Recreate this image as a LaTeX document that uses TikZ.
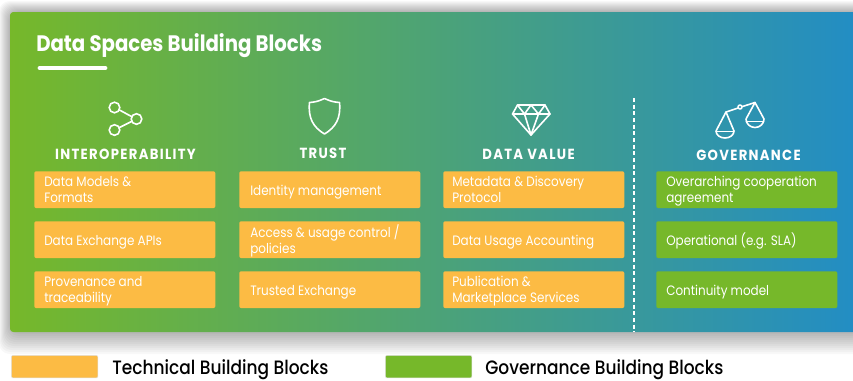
\documentclass[tikz,border=0pt]{standalone}
\usepackage{fontspec}
\setmainfont{Poppins}[FakeStretch=0.88]
\newfontfamily\headf{Poppins}[FakeStretch=0.9,LetterSpace=9]
\newfontfamily\legf{Poppins Medium}[FakeStretch=0.88]
\usetikzlibrary{calc}
\definecolor{cardL}{HTML}{76B82A}
\definecolor{cardR}{HTML}{1E8BCC}
\definecolor{tech}{HTML}{FCBB44}
\definecolor{gov}{HTML}{76B82A}
\tikzset{
  x=0.75pt,y=-0.75pt,
  block/.style={rounded corners=1.5pt,minimum width=135.8pt,minimum height=27.6pt,inner sep=0pt,anchor=north west},
  techblock/.style={block,fill=tech},
  govblock/.style={block,fill=gov},
  blocktext/.style={anchor=west,inner sep=0pt,align=left,text=white,font=\fontsize{10.2pt}{12pt}\selectfont,execute at begin node=\strut,execute at end node=\strut},
  head/.style={text=white,font=\headf\bfseries\fontsize{11pt}{13pt}\selectfont,anchor=center},
  icon/.style={draw=white,line width=1.2pt,line join=round,line cap=round},
  legendbox/.style={rounded corners=1pt,minimum width=65pt,minimum height=17pt,inner sep=0pt,anchor=north west},
  legendtext/.style={text=black,font=\legf\fontsize{14.5pt}{16pt}\selectfont,anchor=west,inner sep=0pt}
}
% style, name, position, left inset, text
\newcommand\blk[5]{\node[#1] (#2) at (#3) {};
  \node[blocktext] (#2t) at ($(#2.west)+(#4,2.2)$) {#5};}
\begin{document}
\begin{tikzpicture}
\useasboundingbox (0,0) rectangle (853,380);
\clip (0,0) rectangle (853,380);
\fill[white] (0,0) rectangle (853,380);
% soft shadow
\foreach \s in {22,20,...,2}{
  \fill[black,opacity=0.028,rounded corners=8pt] ({10-\s*0.5},{12-\s*0.5}) rectangle ({880},{332+\s});
}
% card
\path[rounded corners=2.5pt,left color=cardL,right color=cardR] (10,12) rectangle (900,332);
\fill[cardR] (853,12) rectangle (900,332);
% title
\node[anchor=west,inner sep=0pt,text=white,font=\bfseries\fontsize{16.8pt}{18pt}\selectfont] (title) at (36,45.5) {Data Spaces Building Blocks};
\coordinate (ulA) at (40,68);\coordinate (ulB) at (105,68);
\draw[white,line width=3.6pt,line cap=round] (ulA) -- (ulB);
% divider
\coordinate (divA) at (634,98);\coordinate (divB) at (634,332);
\draw[white,line width=1pt,dash pattern=on 3pt off 2pt] (divA) -- (divB);
% heads
\node[head] (h1) at (125.5,154) {INTEROPERABILITY};
\node[head] (h2) at (323,153.5) {TRUST};
\node[head] (h3) at (528.5,154.5) {DATA VALUE};
\node[head] (h4) at (748.5,155) {GOVERNANCE};
% blocks
\blk{techblock}{a1}{34,171}{10}{Data Models \&\\Formats}
\blk{techblock}{a2}{34,221}{10}{Data Exchange APIs}
\blk{techblock}{a3}{34,271}{10}{Provenance and\\traceability}
\blk{techblock}{b1}{239,171}{11}{Identity management}
\blk{techblock}{b2}{239,221}{11}{Access \& usage control /\\policies}
\blk{techblock}{b3}{239,271}{11}{Trusted Exchange}
\blk{techblock}{c1}{443,171}{9}{Metadata \& Discovery\\Protocol}
\blk{techblock}{c2}{443,221}{9}{Data Usage Accounting}
\blk{techblock}{c3}{443,271}{9}{Publication \&\\Marketplace Services}
\blk{govblock}{d1}{656,171}{10}{Overarching cooperation\\agreement}
\blk{govblock}{d2}{656,221}{10}{Operational (e.g. SLA)}
\blk{govblock}{d3}{656,271}{10}{Continuity model}
% share icon
\draw[icon] (114.5,107.5) circle (5.3);
\draw[icon] (136.5,119) circle (5.3);
\draw[icon] (114.5,130) circle (5.3);
\draw[icon] (119.5,110) -- (131.5,116.5);
\draw[icon] (119.5,127.5) -- (131.5,121.5);
% shield
\draw[icon] (324.5,98.5) .. controls (318,101.5) and (315,102) .. (309.5,102.5)
  .. controls (308,118) and (313,127) .. (324.5,134)
  .. controls (336,127) and (341,118) .. (339.5,102.5)
  .. controls (334,102) and (331,101.5) .. (324.5,98.5) -- cycle;
% diamond
\draw[icon] (517.5,105) -- (545,105) -- (550,114) -- (531,135) -- (512.5,114) -- cycle;
\draw[icon] (512.5,114) -- (550,114);
\draw[icon] (517.5,105) -- (524.5,114) -- (531,105) -- (538.5,114) -- (545,105);
\draw[icon] (524.5,114) -- (531,135) -- (538.5,114);
% scales
\draw[icon] (726,112) -- (738,108);
\draw[icon] (742.5,106.5) -- (755,102.5);
\draw[icon] (740,107) circle (2);
\draw[icon] (726,112) -- (716,131) arc (180:0:9 and 7) -- cycle;
\draw[icon,line width=0.6pt] (716,131) -- (734,131);
\draw[icon] (755,102.5) -- (746,119) arc (180:0:9 and 8.5) -- cycle;
\draw[icon,line width=0.6pt] (746,121.5) -- (764,121.5);
% legend
\node[legendbox,fill=tech,draw=black!12,line width=0.4pt] (lg1) at (11,355) {};
\node[legendtext] (lt1) at (112,370) {Technical Building Blocks};
\node[legendbox,fill=gov,draw=black!12,line width=0.4pt] (lg2) at (385,355) {};
\node[legendtext] (lt2) at (485,370) {Governance Building Blocks};
\end{tikzpicture}
\end{document}
